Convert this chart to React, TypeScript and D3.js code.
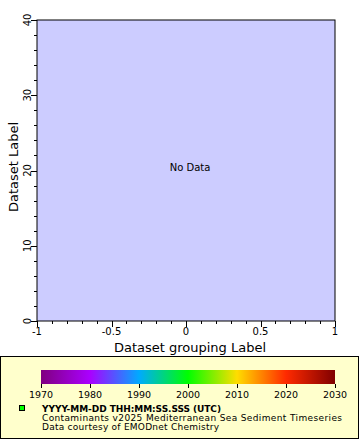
import React from "react";
import * as d3 from "d3";

const xDomain = [-1, 1];
const yDomain = [0, 40];
const xMajorTicks = [-1, -0.5, 0, 0.5, 1];
const xMinorStep = 0.1;
const yMajorTicks = [0, 10, 20, 30, 40];
const yMinorStep = 2;
const colorYears = [1970, 1980, 1990, 2000, 2010, 2020, 2030];
const colorStops = ["#800080", "#aa00ff", "#00aaff", "#00ff00", "#ffdd00", "#ff2a00", "#800000"];
const xTitle = "Dataset grouping Label";
const yTitle = "Dataset Label";
const noDataText = "No Data";
const legendTitle = "YYYY-MM-DD THH:MM:SS.SSS (UTC)";
const legendLines = [
  "Contaminants v2025 Mediterranean Sea Sediment Timeseries",
  "Data courtesy of EMODnet Chemistry",
];
const legendLineWidths = [300, 177];

const FONT = "DejaVu Sans, sans-serif";

export default function App() {
  const left = 37, right = 335, top = 20, bottom = 321;
  const x = d3.scaleLinear().domain(xDomain).range([left, right]);
  const y = d3.scaleLinear().domain(yDomain).range([bottom, top]);
  const xMinor = d3.range(xDomain[0], xDomain[1] + 1e-9, xMinorStep);
  const yMinor = d3.range(yDomain[0], yDomain[1] + 1e-9, yMinorStep);

  const cbLeft = 41, cbRight = 335, cbTop = 370, cbBottom = 384;
  const cx = d3.scaleLinear().domain([colorYears[0], colorYears[colorYears.length - 1]]).range([cbLeft, cbRight]);
  const color = d3.scaleLinear<string>().domain(colorYears).range(colorStops);

  return (
    <svg width={360} height={440} style={{ position: "absolute", left: 0, top: 0, display: "block" }} fontFamily={FONT}>
      <rect x={0} y={0} width={360} height={440} fill="#ffffff" />
      <rect x={left} y={top} width={right - left} height={bottom - top} fill="#ccccff" stroke="#000" strokeWidth={1} />
      {xMinor.map((v, i) => (
        <line key={"xm" + i} x1={Math.round(x(v)) + 0.5} x2={Math.round(x(v)) + 0.5} y1={bottom} y2={bottom + 3} stroke="#000" />
      ))}
      {xMajorTicks.map((v) => (
        <g key={"xM" + v}>
          <line x1={Math.round(x(v)) + 0.5} x2={Math.round(x(v)) + 0.5} y1={bottom} y2={bottom + 6} stroke="#000" />
          <text x={x(v)} y={335} fontSize={10} textAnchor="middle">{String(v)}</text>
        </g>
      ))}
      {yMinor.map((v, i) => (
        <line key={"ym" + i} x1={left - 3} x2={left} y1={Math.round(y(v)) + 0.5} y2={Math.round(y(v)) + 0.5} stroke="#000" />
      ))}
      {yMajorTicks.map((v) => (
        <g key={"yM" + v}>
          <line x1={left - 6} x2={left} y1={Math.round(y(v)) + 0.5} y2={Math.round(y(v)) + 0.5} stroke="#000" />
          <text transform={`translate(30.5,${y(v)}) rotate(-90)`} fontSize={10} textAnchor="middle">{String(v)}</text>
        </g>
      ))}
      <text x={190} y={352} fontSize={13} textAnchor="middle">{xTitle}</text>
      <text transform={`translate(18,167) rotate(-90)`} fontSize={13} textAnchor="middle">{yTitle}</text>
      <text x={190} y={171} fontSize={10} textAnchor="middle">{noDataText}</text>

      <rect x={0.5} y={356.5} width={358} height={82} fill="#ffffcc" stroke="#000" />
      <defs>
        <linearGradient id="cb" x1="0" x2="1" y1="0" y2="0">
          {colorYears.map((yr) => (
            <stop key={yr} offset={(cx(yr) - cbLeft) / (cbRight - cbLeft)} stopColor={color(yr)} />
          ))}
        </linearGradient>
      </defs>
      <rect x={cbLeft} y={cbTop} width={cbRight - cbLeft} height={cbBottom - cbTop} fill="url(#cb)" />
      {colorYears.map((yr) => (
        <g key={"cb" + yr}>
          <line x1={Math.round(cx(yr)) + 0.5} x2={Math.round(cx(yr)) + 0.5} y1={cbBottom} y2={cbBottom + 4} stroke="#000" />
          <text x={cx(yr)} y={398} fontSize={9.5} textAnchor="middle">{yr}</text>
        </g>
      ))}
      <rect x={19.5} y={405.5} width={5} height={5} fill="#00ff00" stroke="#000" />
      <text x={42} y={411.5} fontSize={9} fontWeight="bold" textLength={179} lengthAdjust="spacing">{legendTitle}</text>
      {legendLines.map((t, i) => (
        <text key={i} x={42} y={420.5 + i * 9} fontSize={9} textLength={legendLineWidths[i]} lengthAdjust="spacing">{t}</text>
      ))}
    </svg>
  );
}
